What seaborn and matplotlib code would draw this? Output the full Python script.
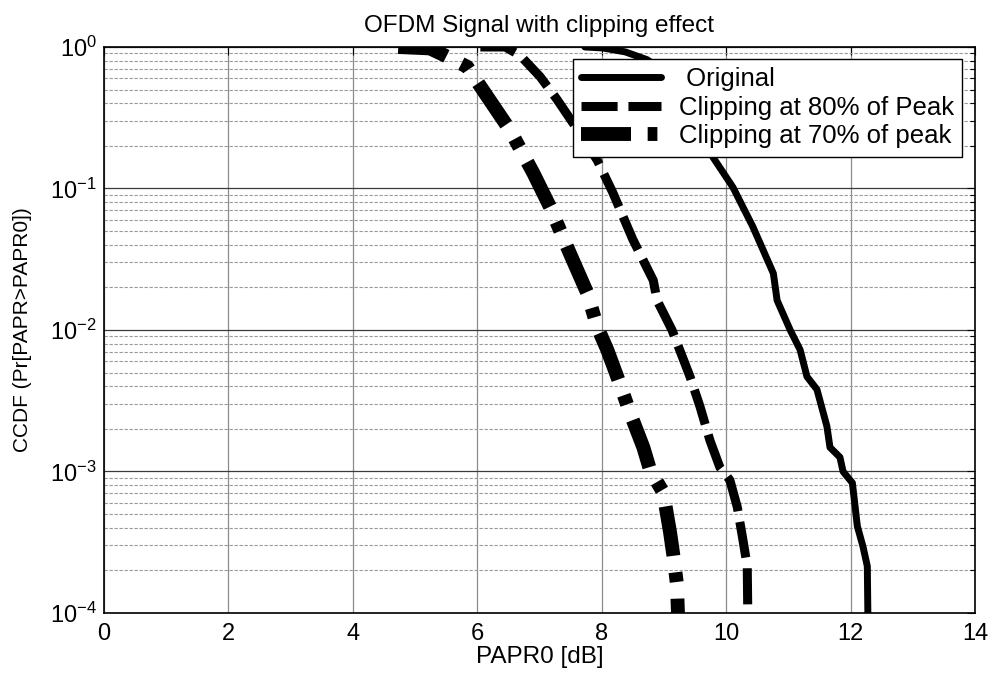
import numpy as np
import matplotlib
matplotlib.use("Agg")
import matplotlib.pyplot as plt
import matplotlib.ticker as mticker
import seaborn as sns

# PAPR0 [dB] and CCDF
papr_orig = [7.73, 8.02, 8.38, 8.73, 9.10, 9.45, 9.79, 10.11, 10.43, 10.76, 10.82, 11.03,
             11.19, 11.30, 11.46, 11.62, 11.67, 11.83, 11.88, 12.03, 12.11, 12.20, 12.27, 12.28]
ccdf_orig = [1.0, 0.984, 0.923, 0.813, 0.631, 0.355, 0.166, 0.102, 0.0537, 0.0251, 0.0162, 0.010,
             0.00724, 0.00468, 0.0038, 0.00209, 0.00148, 0.00126, 0.001, 0.00083, 0.00041,
             0.000295, 0.000214, 0.00009]

papr_80 = [6.05, 6.45, 6.69, 7.01, 7.28, 7.62, 7.93, 8.18, 8.50, 8.83, 8.89, 9.13, 9.42,
           9.58, 9.74, 9.90, 10.06, 10.18, 10.27, 10.34, 10.35]
ccdf_80 = [1.0, 1.0, 0.871, 0.617, 0.427, 0.257, 0.158, 0.0933, 0.0437, 0.0224, 0.0162, 0.010,
           0.00468, 0.00288, 0.00166, 0.00107, 0.00087, 0.00056, 0.00033, 0.000214, 0.00009]

papr_70 = [4.73, 5.24, 5.48, 5.84, 6.16, 6.53, 6.90, 7.17, 7.49, 7.77, 7.93, 8.09, 8.25,
           8.46, 8.67, 8.78, 8.99, 9.10, 9.15, 9.21, 9.23]
ccdf_70 = [1.0, 0.977, 0.871, 0.724, 0.447, 0.257, 0.129, 0.0741, 0.0347, 0.0182, 0.0105,
           0.00724, 0.00468, 0.00257, 0.00148, 0.00102, 0.00071, 0.00037, 0.00026, 0.00016, 0.00009]

labels = [" Original", "Clipping at 80% of Peak", "Clipping at 70% of peak"]
x_ticks = [0, 2, 4, 6, 8, 10, 12, 14]

sns.set_style("white")
plt.rcParams["font.family"] = ["Liberation Sans", "DejaVu Sans"]
plt.rcParams["axes.unicode_minus"] = False
plt.rcParams["mathtext.fontset"] = "custom"
plt.rcParams["mathtext.rm"] = "Liberation Sans"
plt.rcParams["mathtext.it"] = "Liberation Sans:italic"
plt.rcParams["mathtext.bf"] = "Liberation Sans:bold"
plt.rcParams["text.color"] = "black"
plt.rcParams["axes.labelcolor"] = "black"
plt.rcParams["xtick.color"] = "black"
plt.rcParams["ytick.color"] = "black"

fig = plt.figure(figsize=(9.92, 6.75), dpi=100)
ax = fig.add_axes([0.1048, 0.0919, 0.8780, 0.8385])
ax.set_yscale("log")

# curves
sns.lineplot(x=papr_orig, y=ccdf_orig, ax=ax, color="black", linewidth=5,
             sort=False, estimator=None, label=labels[0])
sns.lineplot(x=papr_80, y=ccdf_80, ax=ax, color="black", linewidth=6.5,
             linestyle=(0, (4.0, 1.2)), sort=False, estimator=None, label=labels[1])
sns.lineplot(x=papr_70, y=ccdf_70, ax=ax, color="black", linewidth=10,
             linestyle=(0, (3.6, 1.2, 0.7, 1.2)), sort=False, estimator=None, label=labels[2])

ax.set_xlim(0, 14)
ax.set_ylim(1e-4, 1)
ax.set_xticks(x_ticks)
ax.yaxis.set_major_locator(mticker.LogLocator(base=10, numticks=10))
ax.yaxis.set_minor_locator(mticker.LogLocator(base=10, subs=np.arange(2, 10), numticks=10))
ax.yaxis.set_minor_formatter(mticker.NullFormatter())

# grid like matlab
ax.set_axisbelow(True)
ax.grid(True, which="major", axis="x", color="#8c8c8c", linewidth=0.9, linestyle="-")
ax.grid(True, which="major", axis="y", color="#3a3a3a", linewidth=0.9, linestyle="-")
ax.grid(True, which="minor", axis="y", color="#9a9a9a", linewidth=0.8, linestyle=(0, (3, 1.5)))

ax.tick_params(which="both", direction="in", top=True, right=True, color="black", width=0.8)
ax.tick_params(which="major", length=6, labelsize=17)
ax.tick_params(which="minor", length=3.5)
ax.tick_params(axis="x", pad=7)
ax.tick_params(axis="y", pad=5)
for s in ax.spines.values():
    s.set_color("black")
    s.set_linewidth(1.2)

ax.set_title("OFDM Signal with clipping effect", fontsize=17.5, pad=11)
ax.set_xlabel("PAPR0 [dB]", fontsize=17.5, labelpad=1)
ax.set_ylabel("CCDF (Pr[PAPR>PAPR0])", fontsize=15, labelpad=13)

leg = ax.legend(loc="upper right", bbox_to_anchor=(0.985, 0.979), borderaxespad=0,
                fontsize=18.5, handlelength=3.1, handletextpad=0.7, borderpad=0.32,
                labelspacing=0.18, fancybox=False, framealpha=1, edgecolor="black")
leg.get_frame().set_linewidth(1.0)

fig.savefig("out.png", dpi=100)
